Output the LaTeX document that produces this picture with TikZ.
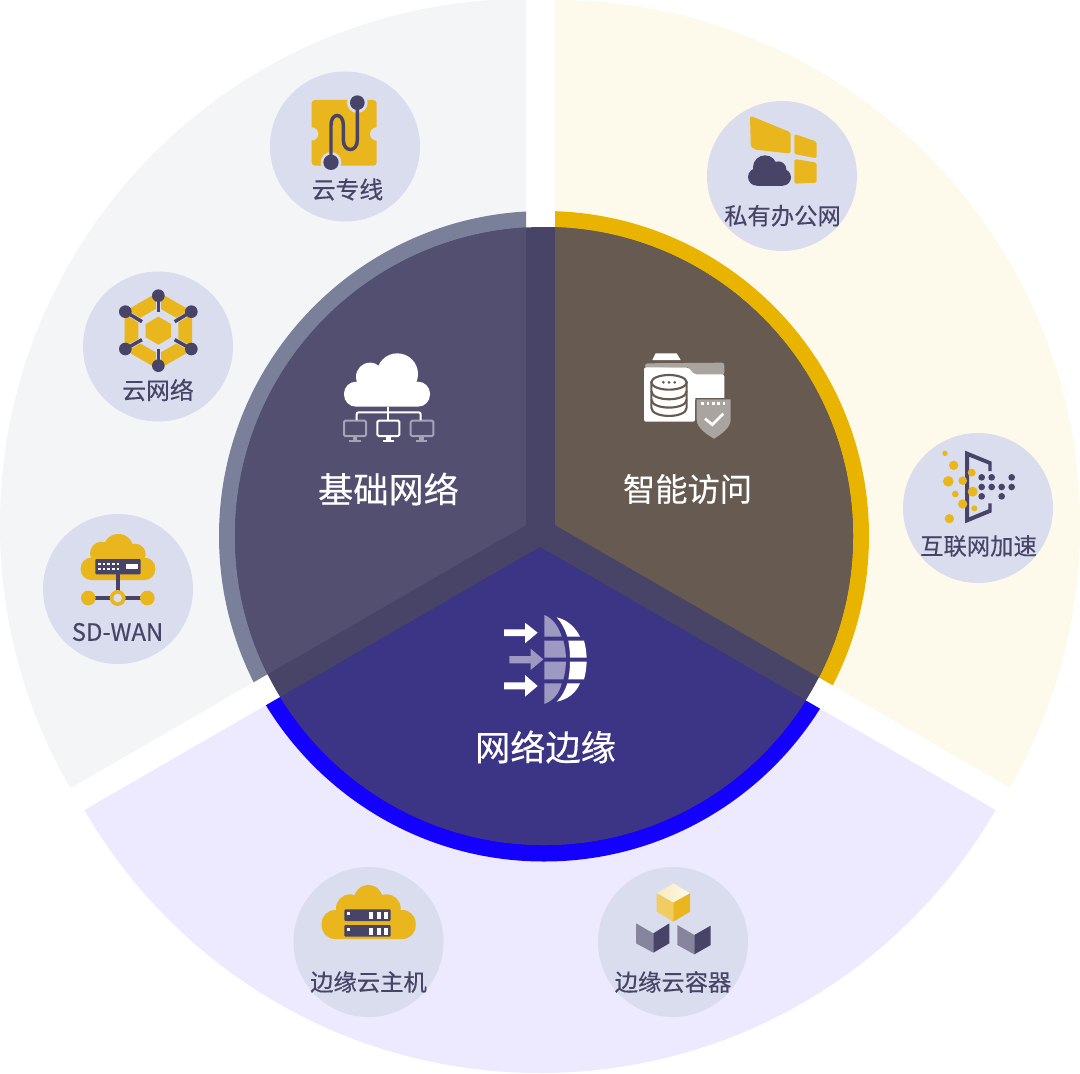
\documentclass[tikz,border=0pt]{standalone}
\usepackage{fontspec}
\newfontfamily\cjk[RawFeature={embolden=0.35}]{Noto Sans CJK SC}
\definecolor{greysec}{HTML}{F4F5F7}
\definecolor{yelsec}{HTML}{FDFAEB}
\definecolor{lavsec}{HTML}{EDEAFF}
\definecolor{bubble}{HTML}{D9DDED}
\definecolor{ringgrey}{HTML}{7A7F9A}
\definecolor{ringyel}{HTML}{E9B400}
\definecolor{ringblue}{HTML}{1400FF}
\definecolor{band}{HTML}{474468}
\definecolor{darkl}{HTML}{524F70}
\definecolor{darkr}{HTML}{675A51}
\definecolor{darkb}{HTML}{3C3484}
\definecolor{gold}{HTML}{E9B61E}
\definecolor{ink}{HTML}{474468}
\definecolor{softw}{HTML}{A5A4B6}
\definecolor{softb}{HTML}{A9A49F}
\definecolor{softg}{HTML}{9D99C2}
\tikzset{
  zoomgrid/.style={x=.25pt,y=-.25pt},
  bubblecircle/.style={fill=bubble},
  smalllabel/.style={text=ink,font=\cjk\fontsize{17.5}{20}\selectfont,inner sep=0pt},
  shortlabel/.style={text=ink,font=\cjk\fontsize{17.9}{20}\selectfont,inner sep=0pt},
  biglabel/.style={text=white,font=\cjk\fontsize{26.4}{30}\selectfont,inner sep=0pt},
  midlabel/.style={text=white,font=\cjk\fontsize{24.2}{30}\selectfont,inner sep=0pt},
  wedgeL/.style={insert path={(526,525) -- (526,-1000) -- (-1474,-1000) -- (-1474,1679.7) -- cycle}},
  wedgeR/.style={insert path={(555,525) -- (555,-1000) -- (2555,-1000) -- (2555,1679.7) -- cycle}},
  wedgeB/.style={insert path={(540,547) -- (-1460,1701.7) -- (2540,1701.7) -- cycle}},
}
\begin{document}
\begin{tikzpicture}[x=.75pt,y=-.75pt]
\useasboundingbox (0,0) rectangle (1080,1073);
\clip (0,0) rectangle (1080,1073);
\fill[white] (0,0) rectangle (1080,1073);
% outer sectors
\begin{scope}\clip[wedgeL]; \fill[greysec] (526,525) circle[radius=526]; \end{scope}
\begin{scope}\clip[wedgeR]; \fill[yelsec] (555,525) circle[radius=525]; \end{scope}
\begin{scope}\clip[wedgeB]; \fill[lavsec] (540,547) circle[radius=526]; \end{scope}
% rings
\begin{scope}\clip[wedgeL]; \fill[ringgrey] (544,536) circle[radius=325]; \end{scope}
\begin{scope}\clip[wedgeR]; \fill[ringyel] (544,536) circle[radius=325]; \end{scope}
\begin{scope}\clip[wedgeB]; \fill[ringblue] (544,536) circle[radius=325.5]; \end{scope}
% disc
\fill[band] (544,536) circle[radius=309];
\begin{scope}\clip (544,536) circle[radius=309];
 \begin{scope}\clip[wedgeL]; \fill[darkl] (0,0) rectangle (1080,1073); \end{scope}
 \begin{scope}\clip[wedgeR]; \fill[darkr] (0,0) rectangle (1080,1073); \end{scope}
 \begin{scope}\clip[wedgeB]; \fill[darkb] (0,0) rectangle (1080,1073); \end{scope}
\end{scope}
% bubbles
\foreach \cx/\cy in {345/146.5,158/346.5,118/589,782/176,978/508,368.5/942,673/942}
  \fill[bubblecircle] (\cx,\cy) circle[radius=75];

% icon: cloud line
\begin{scope}[shift={(260,60)},zoomgrid]
 \fill[gold,rounded corners=2.5pt] (155,120) rectangle (350,317);
 \fill[bubble] (155,222) circle[radius=20] (350,222) circle[radius=20];
 \fill[bubble] (292,128) circle[radius=31] (213,307) circle[radius=31];
 \draw[ink,line width=2.6pt] (292,128) -- (292,240) .. controls (292,278) and (250,278) .. (250,240) -- (250,195) .. controls (250,157) and (213,157) .. (213,195) -- (213,307);
 \fill[ink] (292,128) circle[radius=22] (213,307) circle[radius=23];
\end{scope}
% icon: cloud network
\begin{scope}[shift={(70,260)},zoomgrid]
 \fill[gold] (265,96) -- (366,154) -- (366,270) -- (265,328) -- (164,270) -- (164,154) -- cycle;
 \fill[bubble] (265,143) -- (325,177.5) -- (325,246.5) -- (265,281) -- (205,246.5) -- (205,177.5) -- cycle;
 \fill[gold] (265,170) -- (303,192) -- (303,232) -- (265,254) -- (227,232) -- (227,192) -- cycle;
 \foreach \ax/\ay/\bx/\by in {265/107/265/155, 166/155/216/185, 364/155/314/185, 166/267/216/239, 364/267/314/239, 265/317/265/268}{
   \draw[bubble,line width=3.6pt] (\ax,\ay) -- (\bx,\by);
   \draw[ink,line width=2.6pt] (\ax,\ay) -- (\bx,\by);
   \fill[ink] (\ax,\ay) circle[radius=19];
 }
\end{scope}
% icon: SD-WAN
\begin{scope}[shift={(30,505)},zoomgrid]
 \fill[gold] (265,132) circle[radius=45] (215,145) circle[radius=35] (315,148) circle[radius=32];
 \fill[gold,rounded corners=8pt] (152,158) rectangle (376,225);
 \fill[gold] (215,130) rectangle (315,170);
 \fill[ink,rounded corners=.8pt] (196,162) rectangle (332,208);
 \foreach \dx in {208,222,236,250,264}\foreach \dy in {177,191} \fill[white] (\dx-4,\dy-3.5) rectangle (\dx+4,\dy+3.5);
 \fill[white] (288,178) rectangle (325,192);
 \fill[ink] (258,208) rectangle (270,260);
 \fill[ink] (175,273) rectangle (352,285);
 \fill[gold] (175,279) circle[radius=22] (352,279) circle[radius=22] (263,279) circle[radius=24];
 \fill[bubble] (263,279) circle[radius=13];
\end{scope}
% icon: private office
\begin{scope}[shift={(700,60)},zoomgrid]
 \fill[gold,rounded corners=2pt] (150,167) -- (272,217) -- (272,281) -- (175,270) .. controls (158,268) and (152,258) .. (152,245) -- cycle;
 \fill[gold,rounded corners=1.2pt] (283,222) -- (350,245) -- (350,295) -- (283,282) -- cycle;
 \fill[gold,rounded corners=1.2pt] (283,297) -- (350,308) -- (350,368) -- (283,371) -- cycle;
 \fill[ink] (195,322) circle[radius=36];
 \fill[ink] (235,328) circle[radius=24];
 \fill[ink] (170,351) circle[radius=26];
 \fill[ink] (248,352) circle[radius=25];
 \fill[ink] (170,340) rectangle (248,377);
\end{scope}
% icon: internet acceleration
\begin{scope}[shift={(895,425)},zoomgrid]
 \fill[ink] (210,77) -- (290,110) -- (290,138) -- (280,138) -- (280,118) -- (222,95) -- (222,277) -- (280,253) -- (280,235) -- (290,235) -- (290,262) -- (210,295) -- cycle;
 \foreach \px/\py/\pr in {150/85/8,176/121/14,160/169/16,203/167/13,230/143/12,181/207/10,233/200/15,203/237/14,238/250/9,163/281/14}
   \fill[gold] (\px,\py) circle[radius=\pr];
 \foreach \px/\py in {260/157,290/157,350/157,260/186,290/186,320/186,350/186,260/214,320/214}
   \fill[ink] (\px,\py) circle[radius=10];
\end{scope}
% icon: edge host
\begin{scope}[shift={(285,860)},zoomgrid]
 \fill[gold] (250,118) circle[radius=43] (195,145) circle[radius=42] (305,145) circle[radius=42];
 \fill[gold,rounded corners=10pt] (110,150) rectangle (392,237);
 \foreach \oy in {0,47}{
  \fill[ink,rounded corners=.8pt] (178,148+\oy) rectangle (317,183+\oy);
  \fill[white] (186,156+\oy) rectangle (196,165+\oy);
  \foreach \ox in {253,275,297} \fill[white] (\ox,156+\oy) rectangle (\ox+12,177+\oy);
 }
\end{scope}
% icon: edge container
\begin{scope}[shift={(590,860)},zoomgrid]
 \shade[left color=gold!30!white,right color=yelsec] (250,70) -- (300,100) -- (250,128) -- (200,100) -- cycle;
 \fill[gold!70!white] (200,100) -- (250,128) -- (250,185) -- (200,155) -- cycle;
 \fill[gold] (250,128) -- (300,100) -- (300,155) -- (250,185) -- cycle;
 \fill[ink!65!white] (138,190) -- (190,220) -- (190,278) -- (138,250) -- cycle;
 \fill[ink] (190,220) -- (238,190) -- (238,250) -- (190,278) -- cycle;
 \fill[ink!65!white] (262,195) -- (313,225) -- (313,283) -- (262,255) -- cycle;
 \fill[ink] (313,225) -- (362,197) -- (362,255) -- (313,283) -- cycle;
\end{scope}
% icon: base network
\begin{scope}[shift={(320,340)},zoomgrid]
 \fill[white] (232,102) circle[radius=62] (150,110) circle[radius=42];
 \fill[white,rounded corners=9pt] (72,125) rectangle (330,200);
 \draw[softw,line width=1.5pt,rounded corners=1pt] (72,242) rectangle (138,288);
 \draw[softw,line width=1.5pt,rounded corners=1pt] (272,242) rectangle (340,288);
 \fill[softw] (98,288) rectangle (112,302);
 \fill[softw] (88,299) rectangle (122,305);
 \fill[softw] (298,288) rectangle (312,302);
 \fill[softw] (288,299) rectangle (322,305);
 \draw[white,line width=1.5pt,rounded corners=1.5pt] (110,240) -- (110,217) -- (302,217) -- (302,240);
 \draw[white,line width=1.5pt] (205,200) -- (205,240);
 \draw[white,line width=1.5pt,rounded corners=1pt] (172,242) rectangle (238,288);
 \fill[white] (198,288) rectangle (212,302);
 \fill[white] (188,299) rectangle (222,305);
\end{scope}
% icon: smart access
\begin{scope}[shift={(620,340)},zoomgrid]
 \fill[white] (97,60) -- (107,40) -- (170,40) -- (182,60) -- cycle;
 \fill[softb,rounded corners=2pt] (75,85) -- (75,70) -- (313,68) -- (313,105) -- (220,105) -- (205,80) -- cycle;
 \fill[white,rounded corners=1.5pt] (72,82) -- (205,82) -- (222,103) -- (313,103) -- (313,178) -- (225,178) -- (225,245) -- (72,245) -- cycle;
 \draw[darkr,line width=1.6pt,fill=white] (94,127) -- (94,203) .. controls (94,236) and (200,236) .. (200,203) -- (200,127) -- cycle;
 \draw[darkr,line width=1.6pt] (94,153) .. controls (94,186) and (200,186) .. (200,153);
 \draw[darkr,line width=1.6pt] (94,178) .. controls (94,211) and (200,211) .. (200,178);
 \draw[darkr,line width=1.6pt,fill=white] (147,127) ellipse[x radius=53,y radius=22];
 \foreach \dx in {130,147,164} \fill[darkr] (\dx,127) circle[radius=4.5];
 \draw[darkr,line width=1pt,fill=softb] (228,176) -- (334,176) -- (334,240) .. controls (334,265) and (305,285) .. (282,299) .. controls (258,285) and (228,265) .. (228,240) -- cycle;
 \foreach \dx in {248,264,280,296,312} \fill[white] (\dx-4,186) rectangle (\dx+4,194);
 \draw[white,line width=2pt] (255,236) -- (277,254) -- (310,221);
\end{scope}
% icon: network edge
\begin{scope}[shift={(490,600)},zoomgrid]
 \fill[white] (42,88) -- (105,88) -- (105,68) -- (143,98) -- (105,130) -- (105,108) -- (42,108) -- cycle;
 \fill[softg] (58,168) -- (122,168) -- (122,146) -- (160,178) -- (122,210) -- (122,190) -- (58,190) -- cycle;
 \fill[white] (42,247) -- (105,247) -- (105,225) -- (143,258) -- (105,290) -- (105,268) -- (42,268) -- cycle;
 \fill[softg] (163,45) .. controls (190,55) and (208,85) .. (215,110) -- (163,110) -- cycle;
 \fill[softg] (163,122) -- (220,122) .. controls (225,140) and (227,155) .. (228,173) -- (163,173) -- cycle;
 \fill[softg] (163,185) -- (228,185) .. controls (227,205) and (225,220) .. (220,238) -- (163,238) -- cycle;
 \fill[softg] (163,250) -- (215,250) .. controls (208,280) and (190,302) .. (163,312) -- cycle;
 \fill[white] (200,52) .. controls (235,60) and (258,85) .. (270,110) -- (232,110) .. controls (225,88) and (215,68) .. (200,52) -- cycle;
 \fill[white] (235,122) -- (282,122) .. controls (287,140) and (289,155) .. (290,173) -- (240,173) .. controls (240,155) and (238,140) .. (235,122) -- cycle;
 \fill[white] (240,185) -- (290,185) .. controls (289,205) and (287,220) .. (282,238) -- (235,238) .. controls (238,220) and (240,205) .. (240,185) -- cycle;
 \fill[white] (232,250) -- (270,250) .. controls (258,278) and (235,298) .. (200,305) .. controls (215,290) and (225,272) .. (232,250) -- cycle;
\end{scope}
% labels
\node[shortlabel] (l1) at (347.5,189.5) {云专线};
\node[shortlabel] (l2) at (158,390) {云网络};
\node[shortlabel] (l3) at (117.5,632) {SD-WAN};
\node[smalllabel] (l4) at (782.5,215.7) {私有办公网};
\node[smalllabel] (l5) at (978.5,546) {互联网加速};
\node[smalllabel] (l6) at (368.5,982) {边缘云主机};
\node[smalllabel] (l7) at (673,982) {边缘云容器};
\node[biglabel] (b1) at (388.5,489) {基础网络};
\node[midlabel] (b2) at (687.5,489) {智能访问};
\node[biglabel] (b3) at (545.5,747) {网络边缘};
\end{tikzpicture}
\end{document}
